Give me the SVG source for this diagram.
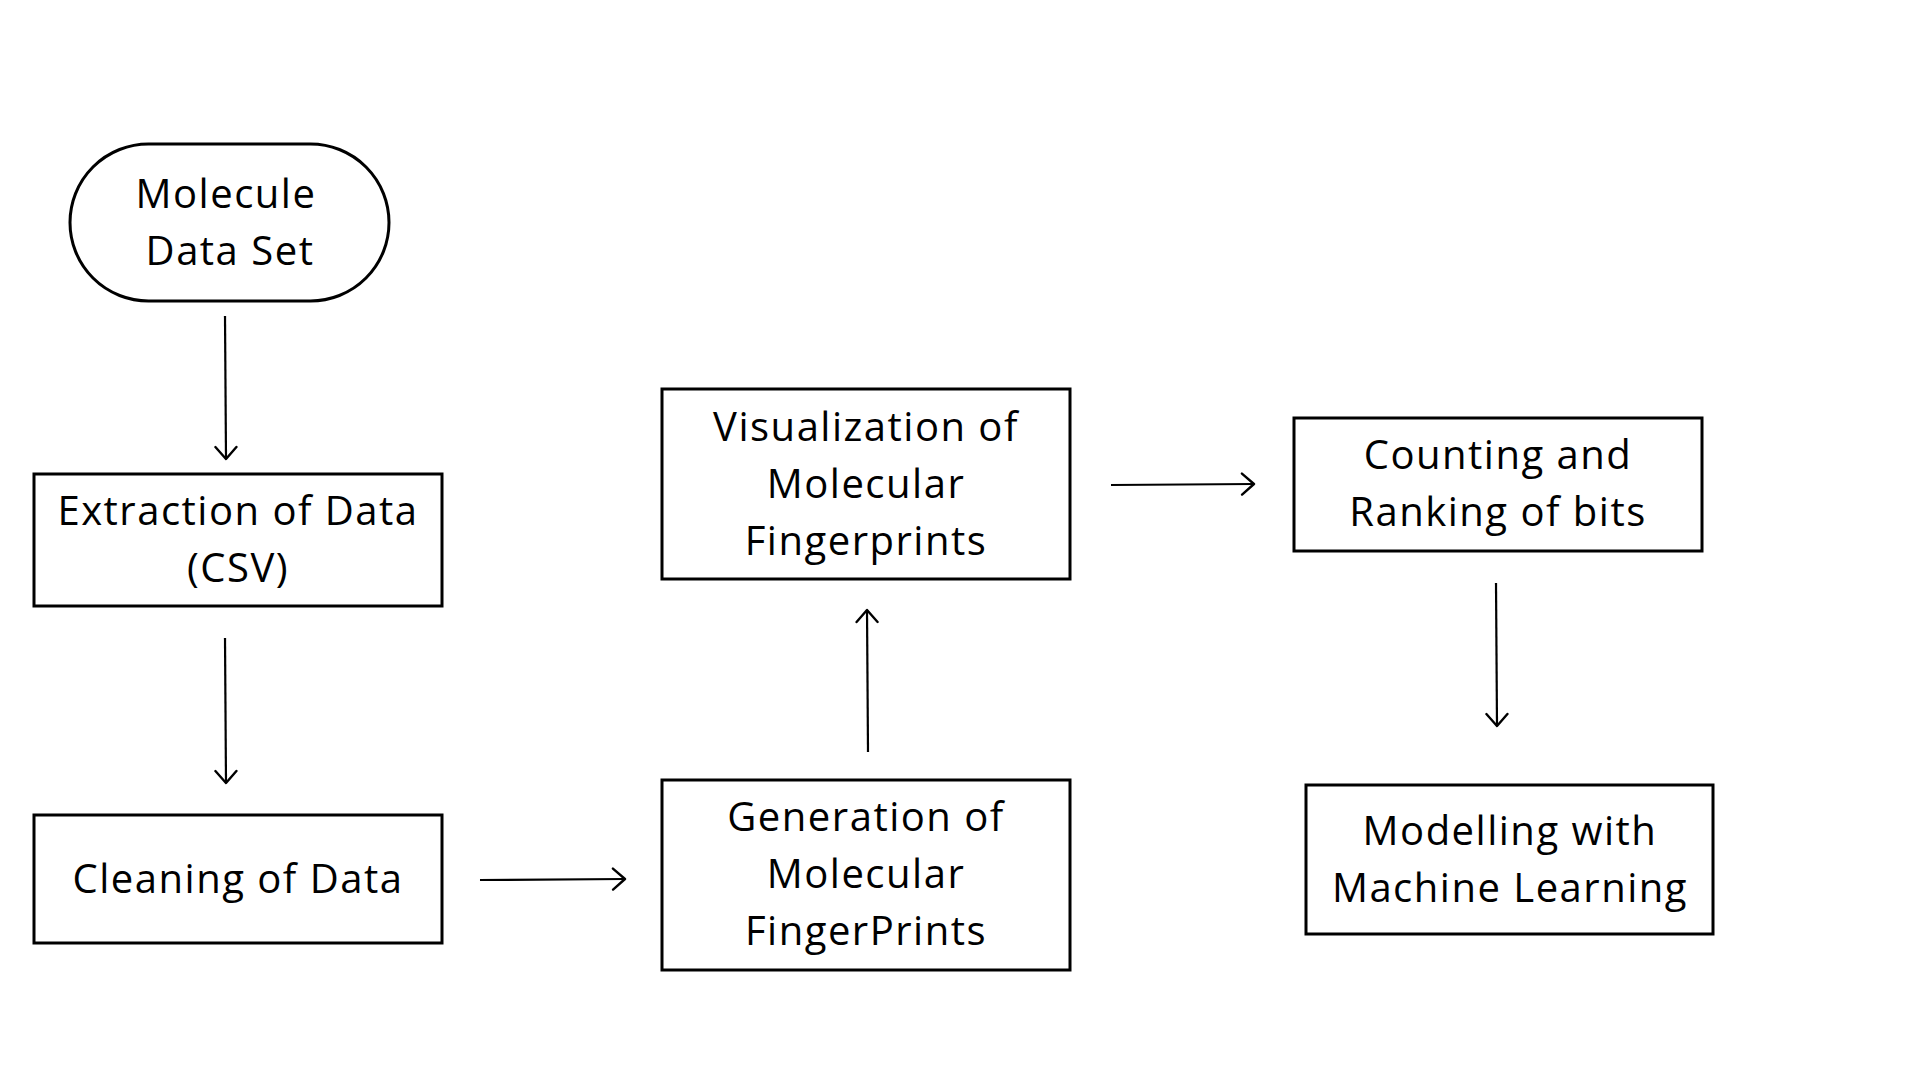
<svg xmlns="http://www.w3.org/2000/svg" width="1920" height="1080" viewBox="0 0 1920 1080">
<defs>
<style>
.box{fill:#fff;stroke:#000;stroke-width:3}
.t{font-family:"Open Sans","Noto Sans","Liberation Sans",sans-serif;font-size:40px;letter-spacing:1.5px;fill:#000;text-anchor:middle}
.c{stroke:#000;stroke-width:2.2;fill:none;marker-end:url(#ah)}
</style>
<marker id="ah" markerUnits="userSpaceOnUse" viewBox="-14 -12 16 24" refX="0" refY="0" markerWidth="16" markerHeight="24" orient="auto">
<path d="M-12,-10.5 L0,0 L-12,10.5" fill="none" stroke="#000" stroke-width="2.4" stroke-linecap="round" stroke-linejoin="round"/>
</marker>
</defs>
<rect width="1920" height="1080" fill="#fff"/>
<g id="connectors">
<line class="c" x1="225" y1="316" x2="226" y2="459"/>
<line class="c" x1="225" y1="638" x2="226" y2="783"/>
<line class="c" x1="480" y1="880" x2="625" y2="879"/>
<line class="c" x1="868" y1="752" x2="867" y2="610"/>
<line class="c" x1="1111" y1="485" x2="1254" y2="484"/>
<line class="c" x1="1496" y1="583" x2="1497" y2="726"/>
</g>
<g id="n1">
<rect class="box" x="70" y="144" width="319" height="157" rx="78.5"/>
<text class="t" x="226" y="208">Molecule</text>
<text class="t" x="230" y="265">Data Set</text>
</g>
<g id="n2">
<rect class="box" x="34" y="474" width="408" height="132"/>
<text class="t" x="238" y="525">Extraction of Data</text>
<text class="t" x="238" y="582">(CSV)</text>
</g>
<g id="n3">
<rect class="box" x="34" y="815" width="408" height="128"/>
<text class="t" x="238" y="893">Cleaning of Data</text>
</g>
<g id="n4">
<rect class="box" x="662" y="780" width="408" height="190"/>
<text class="t" x="866" y="831">Generation of</text>
<text class="t" x="866" y="888">Molecular</text>
<text class="t" x="866" y="945">FingerPrints</text>
</g>
<g id="n5">
<rect class="box" x="662" y="389" width="408" height="190"/>
<text class="t" x="866" y="441">Visualization of</text>
<text class="t" x="866" y="498">Molecular</text>
<text class="t" x="866" y="555">Fingerprints</text>
</g>
<g id="n6">
<rect class="box" x="1294" y="418" width="408" height="133"/>
<text class="t" x="1498" y="469">Counting and</text>
<text class="t" x="1498" y="526">Ranking of bits</text>
</g>
<g id="n7">
<rect class="box" x="1306" y="785" width="407" height="149"/>
<text class="t" x="1510" y="845">Modelling with</text>
<text class="t" x="1510" y="902">Machine Learning</text>
</g>
</svg>
